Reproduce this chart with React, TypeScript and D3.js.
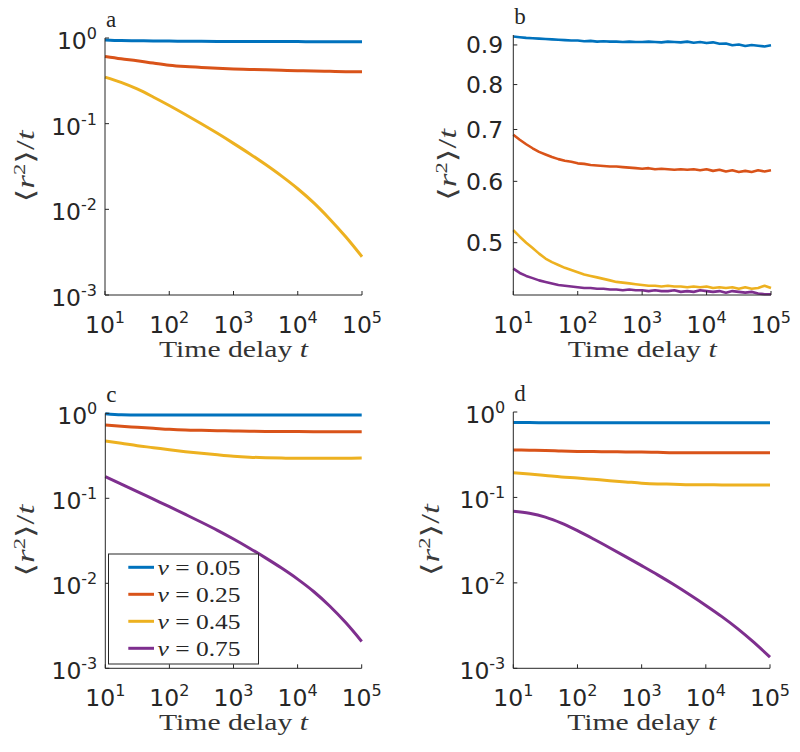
import React from 'react';
import * as d3 from 'd3';

// time delays (quarter-decade grid) for panels a, c, d
const tQuarter = [10, 17.78, 31.62, 56.23, 100, 177.8, 316.2, 562.3, 1000, 1778, 3162, 5623, 10000, 17783, 31623, 56234, 100000];
// time delays (tenth-decade grid) for panel b
const tTenth = [10, 12.59, 15.85, 19.95, 25.12, 31.62, 39.81, 50.12, 63.10, 79.43, 100, 125.9, 158.5, 199.5, 251.2, 316.2, 398.1, 501.2, 631.0, 794.3, 1000, 1259, 1585, 1995, 2512, 3162, 3981, 5012, 6310, 7943, 10000, 12589, 15849, 19953, 25119, 31623, 39811, 50119, 63096, 79433, 100000];

// panel a
const a_nu005 = [0.95, 0.935, 0.93, 0.925, 0.92, 0.918, 0.915, 0.913, 0.912, 0.91, 0.91, 0.908, 0.908, 0.906, 0.906, 0.905, 0.905];
const a_nu025 = [0.61, 0.573, 0.543, 0.51, 0.482, 0.465, 0.454, 0.443, 0.435, 0.43, 0.425, 0.42, 0.415, 0.411, 0.408, 0.405, 0.404];
const a_nu045 = [0.35, 0.303, 0.254, 0.205, 0.163, 0.128, 0.0998, 0.0771, 0.0589, 0.0446, 0.0333, 0.0244, 0.0174, 0.0119, 0.00768, 0.00475, 0.0028];

// panel b
const b_nu005 = [0.923, 0.921, 0.919, 0.918, 0.917, 0.916, 0.915, 0.914, 0.913, 0.912, 0.912, 0.910, 0.911, 0.909, 0.910, 0.909, 0.909, 0.908, 0.909, 0.908, 0.908, 0.909, 0.908, 0.907, 0.909, 0.908, 0.907, 0.909, 0.906, 0.908, 0.905, 0.907, 0.903, 0.904, 0.899, 0.901, 0.897, 0.900, 0.898, 0.896, 0.899];
const b_nu025 = [0.689, 0.679, 0.670, 0.662, 0.655, 0.650, 0.645, 0.641, 0.638, 0.636, 0.633, 0.632, 0.630, 0.629, 0.628, 0.627, 0.627, 0.626, 0.625, 0.624, 0.623, 0.624, 0.622, 0.623, 0.622, 0.621, 0.622, 0.621, 0.622, 0.620, 0.622, 0.619, 0.621, 0.618, 0.620, 0.617, 0.619, 0.617, 0.620, 0.618, 0.620];
const b_nu045 = [0.519, 0.509, 0.500, 0.492, 0.484, 0.477, 0.472, 0.468, 0.464, 0.461, 0.458, 0.455, 0.453, 0.451, 0.449, 0.447, 0.445, 0.444, 0.443, 0.442, 0.441, 0.440, 0.440, 0.439, 0.440, 0.439, 0.439, 0.438, 0.439, 0.438, 0.439, 0.437, 0.438, 0.437, 0.438, 0.436, 0.438, 0.436, 0.437, 0.440, 0.437];
const b_nu075 = [0.463, 0.457, 0.453, 0.450, 0.447, 0.445, 0.443, 0.441, 0.440, 0.439, 0.438, 0.437, 0.437, 0.436, 0.436, 0.435, 0.435, 0.434, 0.435, 0.434, 0.434, 0.433, 0.434, 0.433, 0.433, 0.434, 0.432, 0.433, 0.432, 0.434, 0.433, 0.432, 0.433, 0.431, 0.433, 0.432, 0.431, 0.432, 0.430, 0.429, 0.429];

// panel c
const c_nu005 = [0.99, 0.963, 0.957, 0.955, 0.955, 0.955, 0.954, 0.954, 0.954, 0.954, 0.953, 0.953, 0.953, 0.953, 0.953, 0.953, 0.953];
const c_nu025 = [0.728, 0.703, 0.684, 0.666, 0.648, 0.636, 0.63, 0.625, 0.619, 0.615, 0.612, 0.61, 0.609, 0.608, 0.607, 0.606, 0.606];
const c_nu045 = [0.472, 0.444, 0.416, 0.394, 0.372, 0.354, 0.339, 0.325, 0.313, 0.305, 0.3, 0.297, 0.296, 0.296, 0.295, 0.296, 0.298];
const c_nu075 = [0.18, 0.147, 0.12, 0.0977, 0.0796, 0.0646, 0.0523, 0.042, 0.0332, 0.0259, 0.0199, 0.0151, 0.0112, 0.00801, 0.00541, 0.00345, 0.00207];

// panel d
const d_nu005 = [0.755, 0.752, 0.75, 0.75, 0.75, 0.75, 0.75, 0.75, 0.75, 0.75, 0.75, 0.75, 0.75, 0.75, 0.75, 0.75, 0.75];
const d_nu025 = [0.359, 0.357, 0.355, 0.35, 0.346, 0.344, 0.343, 0.341, 0.34, 0.337, 0.334, 0.334, 0.334, 0.333, 0.333, 0.333, 0.333];
const d_nu045 = [0.194, 0.188, 0.181, 0.174, 0.169, 0.163, 0.157, 0.152, 0.147, 0.144, 0.143, 0.141, 0.141, 0.14, 0.14, 0.14, 0.14];
const d_nu075 = [0.069, 0.0652, 0.0588, 0.05, 0.0408, 0.0326, 0.0258, 0.0203, 0.0159, 0.0124, 0.00956, 0.00726, 0.00545, 0.00403, 0.0029, 0.00201, 0.00135];

const seriesColors = ['#0072BD', '#D95319', '#EDB120', '#7E2F8E'];
const nuLabels = ['0.05', '0.25', '0.45', '0.75'];
const xTickExponents = [1, 2, 3, 4, 5];
const logYTickExponents = [0, -1, -2, -3];
const plainYTicks = [0.5, 0.6, 0.7, 0.8, 0.9];
const panelLetters = ['a', 'b', 'c', 'd'];

const TXT = '#262626';
const SANS = '"DejaVu Sans", sans-serif';
const SERIF = '"Liberation Serif", "DejaVu Serif", serif';

type PanelProps = {
  left: number; right: number; top: number; bottom: number;
  yDomain: [number, number];
  logTicks: boolean;
  t: number[];
  series: number[][];
  letter: string;
  legend?: boolean;
  smooth: boolean;
  ylabelOffset: number;
};

function Pow({ x, y, exp, anchor }: { x: number; y: number; exp: number; anchor: string }) {
  return (
    <text x={x} y={y} textAnchor={anchor} fontFamily={SANS} fontSize={23.5} fill={TXT}>
      10<tspan dy={-10} fontSize={16}>{String(exp)}</tspan>
    </text>
  );
}

function Panel(p: PanelProps) {
  const x = d3.scaleLog().domain([10, 100000]).range([p.left, p.right]);
  const y = d3.scaleLog().domain(p.yDomain).range([p.bottom, p.top]);
  const line = d3.line<number>()
    .x((_, i) => x(p.t[i]))
    .y((v) => y(v))
    .curve(p.smooth ? d3.curveMonotoneX : d3.curveLinear);
  const cx = (p.left + p.right) / 2;
  const cy = (p.top + p.bottom) / 2;
  const tick = 4;
  return (
    <g>
      {p.series.map((s, i) => (
        <path key={i} d={line(s) || ''} fill="none"
          stroke={seriesColors[i]} strokeWidth={p.smooth ? 3 : 2.6} strokeLinejoin="round" />
      ))}
      <line x1={p.left} x2={p.left} y1={p.top} y2={p.bottom} stroke={TXT} strokeWidth={1} />
      <line x1={p.left} x2={p.right} y1={p.bottom} y2={p.bottom} stroke={TXT} strokeWidth={1} />
      {xTickExponents.map((e) => {
        const xx = x(Math.pow(10, e));
        return (
          <g key={'x' + e}>
            <line x1={xx} x2={xx} y1={p.bottom} y2={p.bottom - tick} stroke={TXT} strokeWidth={1} />
            <Pow x={xx} y={p.bottom + 38} exp={e} anchor="middle" />
          </g>
        );
      })}
      {p.logTicks
        ? logYTickExponents.map((e) => {
            const yy = y(Math.pow(10, e));
            return (
              <g key={'y' + e}>
                <line x1={p.left} x2={p.left + tick} y1={yy} y2={yy} stroke={TXT} strokeWidth={1} />
                <Pow x={p.left - 8} y={yy + 11} exp={e} anchor="end" />
              </g>
            );
          })
        : plainYTicks.map((v) => {
            const yy = y(v);
            return (
              <g key={'y' + v}>
                <line x1={p.left} x2={p.left + tick} y1={yy} y2={yy} stroke={TXT} strokeWidth={1} />
                <text x={p.left - 10} y={yy + 8.5} textAnchor="end" fontFamily={SANS} fontSize={23.5} fill={TXT}>
                  {d3.format('.1f')(v)}
                </text>
              </g>
            );
          })}
      <text x={cx} y={p.bottom + 62} textAnchor="middle" fontFamily={SERIF} fontSize={23}
        fill="#333" textLength={149} lengthAdjust="spacingAndGlyphs">
        Time delay <tspan fontStyle="italic">t</tspan>
      </text>
      <text transform={`translate(${p.left - p.ylabelOffset},${cy}) rotate(-90)`} textAnchor="middle"
        dy="0.35em" fontFamily={SERIF} fontSize={25} fill="#3a3a3a" textLength={72} lengthAdjust="spacingAndGlyphs">
        {'\u27E8'}<tspan fontStyle="italic">r</tspan><tspan dy={-9} fontSize={16}>2</tspan><tspan dy={9}>{'\u27E9'}/</tspan><tspan fontStyle="italic">t</tspan>
      </text>
      <text x={p.left + 1} y={p.top - 11} fontFamily={SERIF} fontSize={23} fill={TXT}>{p.letter}</text>
      {p.legend && (
        <g>
          <rect x={108.5} y={554} width={150} height={110} fill="#fff" stroke={TXT} strokeWidth={1} />
          {nuLabels.map((lab, i) => {
            const ry = 567.3 + i * 27;
            return (
              <g key={lab}>
                <line x1={128.3} x2={154} y1={ry} y2={ry} stroke={seriesColors[i]} strokeWidth={3} />
                <text x={157.5} y={ry + 7.5} fontFamily={SERIF} fontSize={22} fill={TXT}
                  textLength={83} lengthAdjust="spacingAndGlyphs">
                  <tspan fontStyle="italic">ν</tspan> = {lab}
                </text>
              </g>
            );
          })}
        </g>
      )}
    </g>
  );
}

export default function App() {
  return (
    <svg width={800} height={752} style={{ position: 'absolute', left: 0, top: 0, background: '#fff' }}>
      <rect x={0} y={0} width={800} height={752} fill="#fff" />
      <Panel left={105} right={362} top={38} bottom={295} yDomain={[0.001, 1]} logTicks={true}
        t={tQuarter} series={[a_nu005, a_nu025, a_nu045]} letter={panelLetters[0]} smooth={true} ylabelOffset={80} />
      <Panel left={513.3} right={771} top={35} bottom={295} yDomain={[0.428, 0.927]} logTicks={false}
        t={tTenth} series={[b_nu005, b_nu025, b_nu045, b_nu075]} letter={panelLetters[1]} smooth={false} ylabelOffset={66} />
      <Panel left={105.3} right={361.7} top={413.3} bottom={668.3} yDomain={[0.001, 1]} logTicks={true}
        t={tQuarter} series={[c_nu005, c_nu025, c_nu045, c_nu075]} letter={panelLetters[2]} smooth={true} legend={true} ylabelOffset={80} />
      <Panel left={513.3} right={770} top={412} bottom={668.3} yDomain={[0.001, 1]} logTicks={true}
        t={tQuarter} series={[d_nu005, d_nu025, d_nu045, d_nu075]} letter={panelLetters[3]} smooth={true} ylabelOffset={83} />
    </svg>
  );
}
